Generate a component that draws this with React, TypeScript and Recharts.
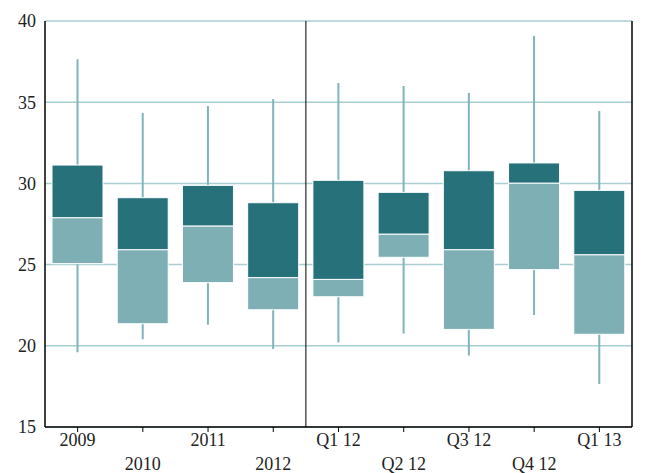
import React from 'react';
import { ComposedChart, Bar, XAxis, YAxis, CartesianGrid, ReferenceLine } from 'recharts';

const categories = ['2009', '2010', '2011', '2012', 'Q1 12', 'Q2 12', 'Q3 12', 'Q4 12', 'Q1 13'];
const lows = [19.6, 20.4, 21.3, 19.8, 20.2, 20.75, 19.4, 21.9, 17.65];
const boxBottoms = [25.06, 21.36, 23.89, 22.22, 23.02, 25.45, 21.01, 24.69, 20.71];
const mids = [27.89, 25.92, 27.38, 24.2, 24.09, 26.88, 25.92, 30.02, 25.61];
const boxTops = [31.13, 29.12, 29.88, 28.81, 30.19, 29.45, 30.78, 31.26, 29.57];
const highs = [37.64, 34.33, 34.77, 35.2, 36.18, 36.0, 35.57, 39.08, 34.46];
const yTicks = [15, 20, 25, 30, 35, 40];

const data = categories.map((c, i) => ({
  name: c,
  low: lows[i],
  q1: boxBottoms[i],
  mid: mids[i],
  q3: boxTops[i],
  high: highs[i],
}));

const DARK = '#26717A';
const LIGHT = '#7DAFB5';
const WHISKER = '#7FB5BA';
const GRID = '#A7CFD3';
const FONT = 'Liberation Serif, Times New Roman, serif';

const Candle = (props: any) => {
  const { x, y, width, height, payload } = props;
  const top = Math.min(y, y + height);
  const h = Math.abs(height);
  const ppu = h / (payload.high - payload.low);
  const yOf = (v: number) => top + (payload.high - v) * ppu;
  const cx = x + width / 2;
  return (
    <g>
      <line x1={cx} x2={cx} y1={yOf(payload.high)} y2={yOf(payload.low)} stroke={WHISKER} strokeWidth={2} />
      <rect x={x} y={yOf(payload.mid)} width={width} height={yOf(payload.q1) - yOf(payload.mid)} fill={LIGHT} stroke="#fff" strokeWidth={1} />
      <rect x={x} y={yOf(payload.q3)} width={width} height={yOf(payload.mid) - yOf(payload.q3)} fill={DARK} stroke="#fff" strokeWidth={1} />
    </g>
  );
};

const XTick = (props: any) => {
  const { x, y, payload, index } = props;
  const dy = index % 2 === 0 ? 11 : 35;
  return (
    <text x={x} y={y + dy} textAnchor="middle" fontFamily={FONT} fontSize={18} fill="#222">
      {payload.value}
    </text>
  );
};

export default function App() {
  return (
    <ComposedChart
      width={657}
      height={465}
      data={data}
      margin={{ top: 13, right: 0, left: 0, bottom: 0 }}
      style={{ fontFamily: FONT }}
    >
      <CartesianGrid yAxisId="left" vertical={false} stroke={GRID} strokeWidth={1.5} />
      <XAxis
        dataKey="name"
        interval={0}
        height={46}
        tick={<XTick />}
        tickSize={5}
        tickMargin={3}
        axisLine={{ stroke: '#000', strokeWidth: 1.5 }}
        tickLine={{ stroke: '#000' }}
      />
      <YAxis
        yAxisId="left"
        domain={[15, 40]}
        ticks={yTicks}
        width={37}
        tickSize={3}
        tickMargin={6}
        tick={{ fontFamily: FONT, fontSize: 18, fill: '#222' }}
        axisLine={{ stroke: '#000', strokeWidth: 1.5 }}
        tickLine={false}
        allowDataOverflow
      />
      <YAxis
        yAxisId="right"
        orientation="right"
        domain={[15, 40]}
        ticks={yTicks}
        width={33}
        tickSize={3}
        tickMargin={6}
        tick={{ fontFamily: FONT, fontSize: 18, fill: '#222', textAnchor: 'start' }}
        axisLine={{ stroke: '#000', strokeWidth: 1.5 }}
        tickLine={false}
      />
      <ReferenceLine yAxisId="left" x="2012" position="end" stroke="#000" strokeWidth={1} />
      <Bar
        yAxisId="left"
        dataKey={(d: any) => [d.low, d.high]}
        barSize={51}
        shape={<Candle />}
        isAnimationActive={false}
      />
    </ComposedChart>
  );
}
